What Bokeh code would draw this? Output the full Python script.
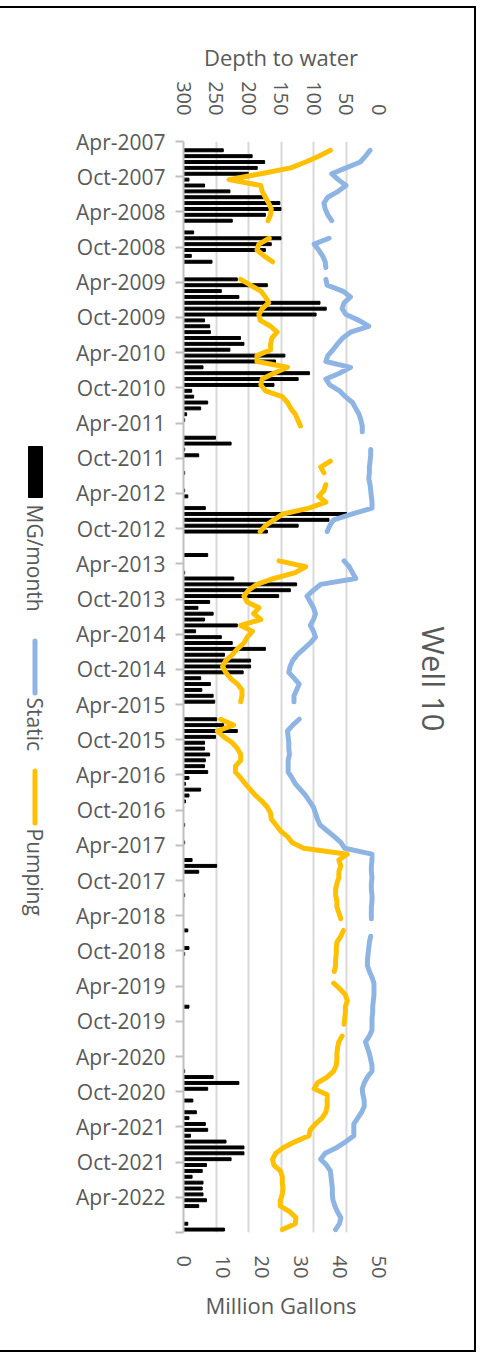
import math
import numpy as np
from bokeh.plotting import figure
from bokeh.layouts import row
from bokeh.models import Range1d, LinearAxis, FixedTicker, Grid
from bokeh.core.properties import value
from bokeh.embed import file_html
from bokeh.resources import INLINE

# ---------------- data ----------------
# monthly values, first value = May-2007 (month 1 after Apr-2007)
FIRST_MONTH = 1

mg_month = [
    10.2, 17.6, 20.8, 18.9, 16.6, 1.4, 5.4, 11.9, 20.8, 24.7,      # May07-Feb08
    25.0, 21.0, 12.5, 0, 2.6, 25.0, 22.5, 21.0, 2.0, 7.3,          # Mar08-Dec08
    0, 0, 13.8, 21.5, 9.7, 14.2, 35.0, 36.6, 34.0, 5.4,            # Jan09-Oct09
    6.7, 6.9, 14.6, 15.5, 11.9, 26.0, 23.6, 5.0, 32.3, 29.4,       # Nov09-Aug10
    23.2, 2.1, 2.6, 6.2, 4.4, 0.8, 0.3, 0, 0, 8.2,                 # Sep10-Jun11
    12.2, 0.3, 3.9, 0, 0, 0.3, 0, 0, 0.3, 1.1,                     # Jul11-Apr12
    0, 5.6, 41.8, 37.3, 29.4, 21.5, 0, 0, 0, 6.2,                  # May12-Feb13
    0, 0, 0.3, 12.9, 29.0, 27.4, 24.4, 6.7, 3.7, 7.6,              # Mar13-Dec13
    5.4, 13.8, 3.1, 9.7, 12.5, 21.0, 10.5, 17.2, 17.2, 15.3,       # Jan14-Oct14
    4.4, 6.9, 4.7, 7.6, 8.0, 0, 0, 8.5, 10.3, 13.8,                # Nov14-Aug15
    8.2, 5.4, 5.4, 6.7, 5.6, 5.4, 6.2, 1.4, 0.5, 4.4,              # Sep15-Jun16
    1.4, 0.5, 0, 0, 0, 0.3, 0, 0, 0.3, 0,                          # Jul16-Apr17
    0, 2.2, 8.5, 3.9, 0, 0, 0, 0.3, 0, 0,                          # May17-Feb18
    0, 0, 0, 1.1, 0, 0, 1.4, 0.3, 0, 0,                            # Mar18-Dec18
    0, 0, 0, 0, 0, 0, 1.4, 0, 0, 0,                                # Jan19-Oct19
    0, 0, 0, 0, 0, 0, 0, 0.3, 7.6, 14.2,                           # Nov19-Aug20
    6.2, 0, 2.4, 0, 3.3, 1.4, 5.6, 6.2, 1.8, 10.9,                 # Sep20-Jun21
    15.5, 15.5, 12.2, 5.9, 4.8, 2.2, 5.0, 4.8, 5.0, 5.9,           # Jul21-Apr22
    3.9, 0, 0, 1.1, 10.5,                                          # May22-Sep22
]

N = None
static_depth = [
    13, 20, 28, 50, 72, 62, 50, 62, 78, 84,
    82, 78, 72, N, N, 76, 99, 92, 86, 82,
    81, N, 81, 79, 55, 43, 53, 56, 50, 30,
    15, 43, 55, 63, 70, 78, 81, 43, 60, 81,
    75, 60, 51, 40, 35, 30, 27, 25, 25, N,
    N, 12, 12, 13, 14, 14, 15, 13, 12, 11,
    10, 10, 40, 69, 75, 79, N, N, N, N,
    53, 45, 40, 35, 89, 100, 110, 105, 100, 97,
    100, 105, 100, 97, 105, 115, 125, 132, 136, 138,
    130, 122, 126, 130, 130, N, N, 122, 132, 140,
    139, 138, 138, 137, 139, 139, 139, 133, 128, 120,
    112, 106, 100, 97, 94, 90, 79, 68, 58, 52,
    10, 10, 11, 11, 10, 11, 11, 10, 10, 11,
    11, 11, N, N, 12, 14, 15, 16, 17, 17,
    14, 10, 7, 7, 7, 8, 9, 9, 10, 10,
    10, 14, 20, 17, 14, 12, 10, 10, 17, 22,
    25, 24, 22, 22, 26, 32, 38, 38, 38, 50,
    64, 82, 89, 80, 74, 73, 72, 71, 71, 70,
    67, 63, 58, 60, 66,
]

pumping_depth = [
    74, 92, 112, 135, 181, 230, 181, 179, 174, 169,
    165, 166, 170, N, N, 168, 184, 187, 176, 163,
    N, N, 212, 197, 181, 174, 169, 179, 184, 182,
    166, 156, 164, 166, 166, 187, 187, 140, 161, 179,
    181, 174, 148, 140, 135, 128, 124, 120, N, N,
    N, N, N, 74, 89, 84, N, 81, 84, 92,
    81, 107, 147, 161, 174, 182, N, N, N, N,
    153, 112, 128, 161, 187, 200, 207, 202, 184, 192,
    181, 212, 194, 202, 207, 217, 225, 235, 240, 235,
    228, 217, 210, 210, 212, N, N, 243, 223, 248,
    238, 225, 217, 212, 212, 220, 220, 212, 205, 197,
    189, 179, 171, 166, 165, 158, 151, 140, 133, 115,
    48, 61, 58, 61, 61, 64, 66, 66, 64, 64,
    61, 58, N, 54, 58, 64, 65, 65, 66, 66,
    68, N, 69, 59, 51, 48, 51, 51, 52, 53,
    N, 56, 61, 63, 64, 64, 65, 69, 79, 94,
    99, 79, 79, 79, 81, 87, 97, 105, 107, 128,
    146, 158, 163, 161, 151, 148, 148, 147, 148, 151,
    151, 136, 127, 128, 148,
]

date_tick_labels = [
    "Apr-2007", "Oct-2007", "Apr-2008", "Oct-2008", "Apr-2009", "Oct-2009",
    "Apr-2010", "Oct-2010", "Apr-2011", "Oct-2011", "Apr-2012", "Oct-2012",
    "Apr-2013", "Oct-2013", "Apr-2014", "Oct-2014", "Apr-2015", "Oct-2015",
    "Apr-2016", "Oct-2016", "Apr-2017", "Oct-2017", "Apr-2018", "Oct-2018",
    "Apr-2019", "Oct-2019", "Apr-2020", "Oct-2020", "Apr-2021", "Oct-2021",
    "Apr-2022", "",
]
mg_ticks = [0, 10, 20, 30, 40, 50]
depth_ticks = [300, 250, 200, 150, 100, 50, 0]

series_names = ["MG/month", "Static", "Pumping"]
series_colors = ["black", "#8EB4E3", "#FFC000"]
title_text = "Well 10"

# ---------------- styling ----------------
FONT = "Open Sans"
GREY = "#595959"
H = 1342
BT, BB = 133, 118          # top / bottom borders around the plot frame
FH = H - BT - BB           # frame height (side panels share it)

months = np.arange(FIRST_MONTH, FIRST_MONTH + len(mg_month))
ypos = months + 0.5
static_arr = np.array([np.nan if v is None else v for v in static_depth], dtype=float)
pump_arr = np.array([np.nan if v is None else v for v in pumping_depth], dtype=float)
y_end = 6 * (len(date_tick_labels) - 1)

# ---------------- main chart ----------------
p = figure(width=348, height=H,
           x_range=Range1d(0, 50), y_range=Range1d(y_end, 0),
           output_backend="svg", toolbar_location=None,
           min_border_left=123, min_border_right=30,
           min_border_top=BT, min_border_bottom=BB)
p.outline_line_color = None
p.background_fill_color = "white"
p.border_fill_color = "white"
p.extra_x_ranges = {"depth": Range1d(300, 0)}

p.xgrid.visible = False
p.ygrid.visible = False
p.add_layout(Grid(dimension=0, ticker=FixedTicker(ticks=depth_ticks), x_range_name="depth",
                  grid_line_color="#D9D9D9", grid_line_width=2))

p.hbar(y=ypos, left=0, right=mg_month, height=0.5, color=series_colors[0])
p.line(x=static_arr, y=ypos, x_range_name="depth", line_color=series_colors[1],
       line_width=5, line_cap="round", line_join="round")
p.line(x=pump_arr, y=ypos, x_range_name="depth", line_color=series_colors[2],
       line_width=5, line_cap="round", line_join="round")

xa = p.xaxis[0]
xa.ticker = FixedTicker(ticks=mg_ticks)
xa.axis_label = "Million Gallons"
xa.axis_line_color = None
xa.major_tick_line_color = None
xa.minor_tick_line_color = None
xa.major_label_orientation = -math.pi / 2
xa.major_label_standoff = 17
xa.axis_label_standoff = 9
xa.major_label_text_font = FONT
xa.major_label_text_font_size = "20px"
xa.major_label_text_color = GREY
xa.axis_label_text_font = FONT
xa.axis_label_text_font_size = "22px"
xa.axis_label_text_font_style = "normal"
xa.axis_label_text_color = GREY

ta = LinearAxis(x_range_name="depth", ticker=FixedTicker(ticks=depth_ticks),
                axis_label="Depth to water")
ta.axis_line_color = None
ta.major_tick_line_color = None
ta.minor_tick_line_color = None
ta.major_label_orientation = -math.pi / 2
ta.major_label_standoff = 20
ta.axis_label_standoff = 6
ta.major_label_text_font = FONT
ta.major_label_text_font_size = "20px"
ta.major_label_text_color = GREY
ta.axis_label_text_font = FONT
ta.axis_label_text_font_size = "22px"
ta.axis_label_text_font_style = "normal"
ta.axis_label_text_color = GREY
p.add_layout(ta, "above")

ya = p.yaxis[0]
yt = [6 * i for i in range(len(date_tick_labels))]
ya.ticker = FixedTicker(ticks=yt)
ya.major_label_overrides = {t: lab for t, lab in zip(yt, date_tick_labels)}
ya.axis_line_color = "#BFBFBF"
ya.axis_line_width = 2
ya.major_tick_line_color = "#BFBFBF"
ya.major_tick_line_width = 2
ya.major_tick_out = 8
ya.major_tick_in = 0
ya.minor_tick_line_color = None
ya.major_label_standoff = 10
ya.major_label_text_font = FONT
ya.major_label_text_font_size = "21px"
ya.major_label_text_color = GREY

# ---------------- legend panel (left, rotated text) ----------------
# coordinates: pixels above the bottom of the shared frame
leg = figure(width=60, height=H, x_range=Range1d(0, 60), y_range=Range1d(0, FH),
             output_backend="svg", toolbar_location=None,
             x_axis_location=None, y_axis_location=None,
             min_border_left=0, min_border_right=0, min_border_top=BT, min_border_bottom=BB)
leg.outline_line_color = None
leg.grid.visible = False
leg.quad(left=[28], right=[42], top=[786], bottom=[735], color=series_colors[0])
leg.line(x=[34.5, 34.5], y=[591.5, 539.5], line_color=series_colors[1], line_width=5,
         line_cap="round")
leg.line(x=[34.5, 34.5], y=[461.5, 409.5], line_color=series_colors[2], line_width=5,
         line_cap="round")
leg.text(x=[34, 34, 34], y=[728, 535, 404], text=series_names, angle=-math.pi / 2,
         text_align="left", text_baseline="middle", text_font=value(FONT),
         text_font_size="21px", text_color=GREY)

# ---------------- title panel (right, rotated) ----------------
tf = figure(width=66, height=H, x_range=Range1d(0, 66), y_range=Range1d(0, FH),
            output_backend="svg", toolbar_location=None,
            x_axis_location=None, y_axis_location=None,
            min_border_left=0, min_border_right=0, min_border_top=BT, min_border_bottom=BB)
tf.outline_line_color = None
tf.grid.visible = False
tf.text(x=[25], y=[501], text=[title_text], angle=-math.pi / 2,
        text_align="right", text_baseline="middle", text_font=value(FONT),
        text_font_size="31px", text_color=GREY)

layout = row(leg, p, tf, spacing=0,
             styles={"margin-top": "6px", "border-top": "2px solid #000",
                     "border-right": "2px solid #000", "border-bottom": "2px solid #000"})

open("out.html", "w").write(file_html(layout, INLINE))
